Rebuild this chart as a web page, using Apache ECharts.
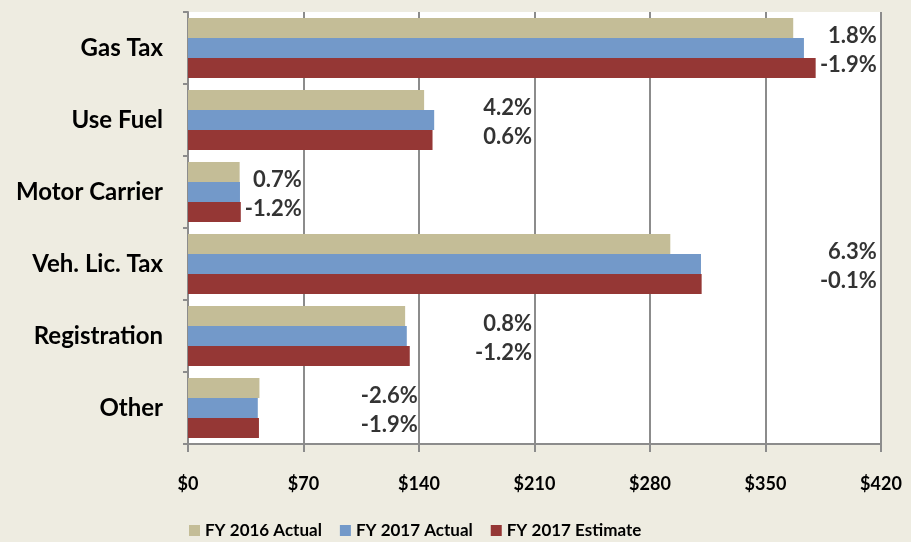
<!DOCTYPE html>
<html>
<head>
<meta charset="utf-8">
<script type="text/javascript" src="https://cdn.jsdelivr.net/npm/echarts/dist/echarts.min.js"></script>
<style>
  html, body { margin: 0; padding: 0; background: #EEECE1; }
</style>
</head>
<body>
<div id="container" style="width:911px; height:542px;"></div>

<script type="text/javascript">
var categories = ['Gas Tax', 'Use Fuel', 'Motor Carrier', 'Veh. Lic. Tax', 'Registration', 'Other'];

var fy2016Actual = [366.8, 143.1, 31.3, 292.3, 131.6, 43.3];
var fy2017Actual = [373.3, 149.2, 31.5, 310.9, 132.6, 42.3];
var fy2017Estimate = [380.4, 148.2, 32.0, 311.3, 134.4, 43.0];

// growth over FY 2016, and actual vs estimate
var growthLabels = ['1.8%', '4.2%', '0.7%', '6.3%', '0.8%', '-2.6%'];
var varianceLabels = ['-1.9%', '0.6%', '-1.2%', '-0.1%', '-1.2%', '-1.9%'];
// where the right edge of each pair of labels sits, in $
var labelAnchor = [417.5, 208.5, 69, 417.5, 208.5, 139.3];

var xTicks = [0, 70, 140, 210, 280, 350, 420];

var font = 'Lato';
var dom = document.getElementById('container');
var chart = echarts.init(dom);

function labelSeries(texts, dy) {
  return {
    type: 'scatter',
    symbolSize: 0,
    silent: true,
    z: 5,
    data: categories.map(function (c, i) {
      return { value: [labelAnchor[i], c], label: { formatter: texts[i] } };
    }),
    label: {
      show: true,
      position: [0, dy],
      align: 'right',
      verticalAlign: 'middle',
      color: '#000',
      fontFamily: font,
      fontWeight: 'bold',
      fontSize: 22
    }
  };
}

var option = {
  backgroundColor: '#EEECE1',
  animation: false,
  grid: {
    left: 188,
    right: 30,
    top: 12,
    bottom: 98,
    show: true,
    backgroundColor: '#FFFFFF',
    borderWidth: 0
  },
  legend: {
    top: 517,
    left: 184,
    icon: 'rect',
    itemWidth: 11,
    itemHeight: 11,
    itemGap: 18,
    data: ['FY 2016 Actual', 'FY 2017 Actual', 'FY 2017 Estimate'],
    textStyle: {
      fontFamily: font,
      fontWeight: 'bold',
      fontSize: 17,
      color: '#000'
    }
  },
  xAxis: {
    type: 'value',
    min: xTicks[0],
    max: xTicks[xTicks.length - 1],
    interval: 70,
    axisLine: { show: true, lineStyle: { color: '#8C8C8C', width: 2 } },
    axisTick: { show: true, length: 8, lineStyle: { color: '#8C8C8C', width: 2 } },
    splitLine: { show: true, lineStyle: { color: '#8C8C8C', width: 2 } },
    axisLabel: {
      margin: 31,
      formatter: function (v) { return '$' + v; },
      color: '#000',
      fontFamily: font,
      fontWeight: 'bold',
      fontSize: 18
    }
  },
  yAxis: {
    type: 'category',
    inverse: true,
    data: categories,
    axisLine: { show: true, lineStyle: { color: '#8C8C8C', width: 2 } },
    axisTick: { show: true, length: 5, lineStyle: { color: '#8C8C8C', width: 2 } },
    axisLabel: {
      margin: 25,
      color: '#000',
      fontFamily: font,
      fontWeight: 'bold',
      fontSize: 24
    }
  },
  series: [
    {
      name: 'FY 2016 Actual',
      type: 'bar',
      barGap: 0,
      barCategoryGap: '17%',
      itemStyle: { color: '#C4BD97' },
      data: fy2016Actual
    },
    {
      name: 'FY 2017 Actual',
      type: 'bar',
      barGap: 0,
      barCategoryGap: '17%',
      itemStyle: { color: '#7399C9' },
      data: fy2017Actual
    },
    {
      name: 'FY 2017 Estimate',
      type: 'bar',
      barGap: 0,
      barCategoryGap: '17%',
      itemStyle: { color: '#953735' },
      data: fy2017Estimate
    },
    labelSeries(growthLabels, -12),
    labelSeries(varianceLabels, 17)
  ]
};

chart.setOption(option);
window.addEventListener('resize', function () { chart.resize(); });
</script>
</body>
</html>
